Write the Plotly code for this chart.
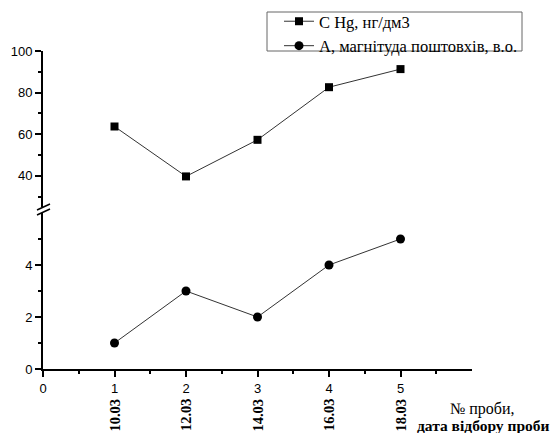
import plotly.graph_objects as go

samples = [1, 2, 3, 4, 5]
dates = ["10.03", "12.03", "14.03", "16.03", "18.03"]
hg = [63.7, 39.7, 57.3, 82.6, 91.3]
magnitude = [1, 3, 2, 4, 5]
hg_name = "C Hg, нг/дм3"
mag_name = "A, магнітуда поштовхів, в.о."

W, H = 553, 433
L, R, T, B = 43, 81, 51, 64
ph = H - T - B
pw = W - L - R

def py(p):
    return (H - B - p) / ph

def px(p):
    return (p - L) / pw

SERIF = "Liberation Serif, Times New Roman, serif"

fig = go.Figure()
fig.add_trace(go.Scatter(
    x=samples, y=hg, name=hg_name, yaxis="y2", mode="lines+markers",
    line=dict(color="#333333", width=1),
    marker=dict(symbol="square", size=8, color="black"),
))
fig.add_trace(go.Scatter(
    x=samples, y=magnitude, name=mag_name, yaxis="y", mode="lines+markers",
    line=dict(color="#333333", width=1),
    marker=dict(symbol="circle", size=9, color="black"),
))

tickfont = dict(family="Liberation Sans, Arial, sans-serif", size=13, color="black")
axis_common = dict(showline=True, linecolor="black", linewidth=1.8, ticks="outside",
                   tickcolor="black", tickwidth=1.5, ticklen=6, showgrid=False,
                   zeroline=False, tickfont=tickfont, automargin=False)

fig.update_layout(
    width=W, height=H,
    margin=dict(l=L, r=R, t=T, b=B, autoexpand=False),
    paper_bgcolor="white", plot_bgcolor="white",
    xaxis=dict(range=[0, 6], tickmode="array", tickvals=[0, 1, 2, 3, 4, 5],
               minor=dict(tickmode="array", tickvals=[0.5, 1.5, 2.5, 3.5, 4.5, 5.5],
                          ticks="outside", ticklen=3, tickcolor="black", tickwidth=1.5),
               **axis_common),
    yaxis=dict(domain=[0, py(213)], range=[0, 6], tickmode="array", tickvals=[0, 2, 4],
               minor=dict(tickmode="array", tickvals=[1, 3, 5],
                          ticks="outside", ticklen=3, tickcolor="black", tickwidth=1.5),
               anchor="x", **axis_common),
    yaxis2=dict(domain=[py(207), 1], range=[25, 100], tickmode="array",
                tickvals=[40, 60, 80, 100],
                minor=dict(tickmode="array", tickvals=[30, 50, 70, 90],
                           ticks="outside", ticklen=3, tickcolor="black", tickwidth=1.5),
                anchor="x", **axis_common),
    showlegend=True,
    legend=dict(x=px(279), y=py(4), xanchor="left", yanchor="top",
                borderwidth=0, bgcolor="rgba(0,0,0,0)",
                font=dict(family=SERIF, size=16.5, color="black"),
                tracegroupgap=0, itemwidth=30),
)

# legend frame
fig.add_shape(type="rect", xref="paper", yref="paper",
              x0=px(267), y0=py(12), x1=px(522), y1=py(51),
              line=dict(color="#666666", width=1), fillcolor="white", layer="below")

# break marks
for y0, y1 in [(210, 204), (215, 209)]:
    fig.add_shape(type="line", xref="paper", yref="paper",
                  x0=px(37), y0=py(y0), x1=px(50), y1=py(y1),
                  line=dict(color="black", width=1.5))

for i, d in enumerate(dates):
    fig.add_annotation(x=samples[i], y=py(415), xref="x", yref="paper",
                       xanchor="center", yanchor="middle",
                       text="<b>" + d + "</b>", textangle=-90, showarrow=False,
                       font=dict(family=SERIF, size=14.5, color="black"))

fig.add_annotation(x=px(483), y=py(409), xref="paper", yref="paper", text="№ проби,",
                   xanchor="center", yanchor="middle", showarrow=False,
                   font=dict(family=SERIF, size=16, color="black"))
fig.add_annotation(x=px(552), y=py(425), xref="paper", yref="paper", text="<b>дата відбору проби</b>",
                   xanchor="right", yanchor="middle", showarrow=False,
                   font=dict(family=SERIF, size=15.5, color="black"))

fig.write_html("out.html", config={"displayModeBar": False},
               post_script="document.body.style.margin='0';document.body.style.overflow='hidden';")
